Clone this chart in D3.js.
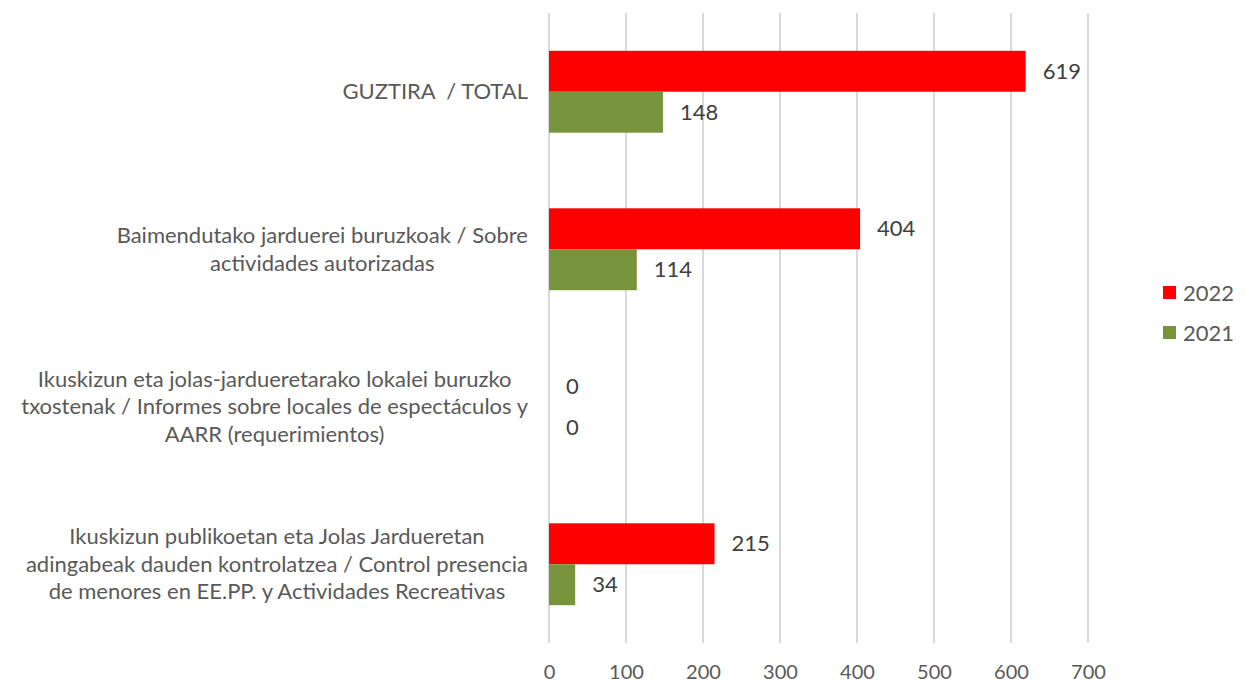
<!DOCTYPE html>
<html>
<head>
<meta charset="utf-8">
<script src="https://cdn.jsdelivr.net/npm/d3@7"></script>
<style>
  body { margin: 0; background: #fff; }
  svg { font-family: Lato, "Open Sans", sans-serif; }
</style>
</head>
<body>
<div id="chart"></div>
<script>
// categories, top to bottom (line breaks as in the original)
const categories = [
    "GUZTIRA  / TOTAL",
    "Baimendutako jarduerei buruzkoak / Sobre\nactividades autorizadas",
    "Ikuskizun eta jolas-jardueretarako lokalei buruzko\ntxostenak / Informes sobre locales de espectáculos y\nAARR (requerimientos)",
    "Ikuskizun publikoetan eta Jolas Jardueretan\nadingabeak dauden kontrolatzea / Control presencia\nde menores en EE.PP. y Actividades Recreativas"
];
const series = ["2022", "2021"];
const values2022 = [619, 404, 0, 215];
const values2021 = [148, 114, 0, 34];
const xTicks = [0, 100, 200, 300, 400, 500, 600, 700];

const colors = { "2022": "#FF0000", "2021": "#77933C" };

const width = 1246, height = 684;
const margin = { top: 13, right: 158, bottom: 41, left: 549 };
const fontSize = "22px";

const svg = d3.select("#chart").append("svg")
    .attr("width", width)
    .attr("height", height);

const x = d3.scaleLinear()
    .domain([0, 700])
    .range([margin.left, width - margin.right]);

const y = d3.scaleBand()
    .domain(d3.range(categories.length))
    .range([margin.top, height - margin.bottom])
    .paddingInner(0.48)
    .paddingOuter(0.24);

const ySub = d3.scaleBand()
    .domain(series)
    .range([0, y.bandwidth()]);

// gridlines
svg.append("g")
    .selectAll("line")
    .data(xTicks)
    .join("line")
    .attr("x1", d => x(d)).attr("x2", d => x(d))
    .attr("y1", margin.top).attr("y2", height - margin.bottom)
    .attr("stroke", "#D9D9D9")
    .attr("stroke-width", 2);

// x axis labels
const xAxis = svg.append("g")
    .attr("transform", `translate(0,${height - margin.bottom})`)
    .call(d3.axisBottom(x).tickValues(xTicks).tickSize(0));
xAxis.select(".domain").remove();
xAxis.selectAll("text")
    .attr("y", 29)
    .attr("dy", "0.35em")
    .attr("fill", "#595959")
    .style("font-size", "20px")
    .style("font-family", "Lato, sans-serif");

// bars
const rows = categories.map((c, i) => ({ i, v: { "2022": values2022[i], "2021": values2021[i] } }));

const groups = svg.append("g")
    .selectAll("g")
    .data(rows)
    .join("g")
    .attr("transform", d => `translate(0,${y(d.i)})`);

groups.selectAll("rect")
    .data(d => series.map(s => ({ s, v: d.v[s] })))
    .join("rect")
    .attr("x", x(0))
    .attr("y", d => ySub(d.s))
    .attr("width", d => x(d.v) - x(0))
    .attr("height", ySub.bandwidth())
    .attr("fill", d => colors[d.s]);

groups.selectAll("text")
    .data(d => series.map(s => ({ s, v: d.v[s] })))
    .join("text")
    .attr("x", d => x(d.v) + 17)
    .attr("y", d => ySub(d.s) + ySub.bandwidth() / 2)
    .attr("dy", "0.35em")
    .attr("fill", "#404040")
    .style("font-size", fontSize)
    .text(d => d.v);

// category labels: centred block, right edge at 528
const labelRight = 528;
const lineH = 27.5;
categories.forEach((c, i) => {
    const lines = c.split("\n");
    const g = svg.append("g");
    const cy = y(i) + y.bandwidth() / 2;
    const texts = g.selectAll("text")
        .data(lines)
        .join("text")
        .attr("y", (d, k) => cy + (k - (lines.length - 1) / 2) * lineH)
        .attr("dy", "0.35em")
        .attr("text-anchor", "middle")
        .attr("fill", "#595959")
        .style("font-size", fontSize)
        .style("white-space", "pre")
        .text(d => d);
    let maxW = 0;
    texts.each(function () { maxW = Math.max(maxW, this.getComputedTextLength()); });
    texts.attr("x", labelRight - maxW / 2);
});

// legend
const legend = svg.append("g")
    .selectAll("g")
    .data(series)
    .join("g")
    .attr("transform", (d, i) => `translate(1163,${293 + i * 40})`);
legend.append("rect")
    .attr("x", 0).attr("y", -7)
    .attr("width", 13).attr("height", 13)
    .attr("fill", d => colors[d]);
legend.append("text")
    .attr("x", 20)
    .attr("dy", "0.35em")
    .attr("fill", "#595959")
    .style("font-size", fontSize)
    .text(d => d);
</script>
</body>
</html>
